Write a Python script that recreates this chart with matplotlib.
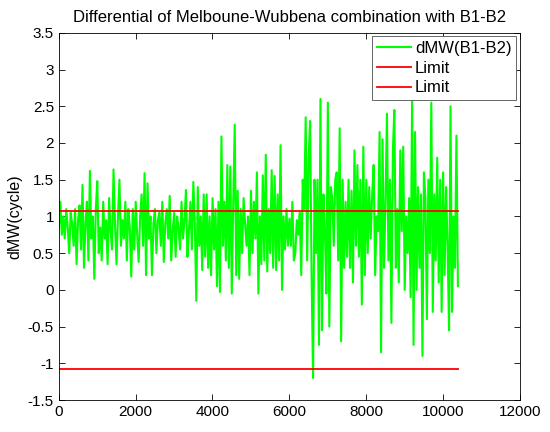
import numpy as np
import matplotlib
matplotlib.use("Agg")
import matplotlib.pyplot as plt
from matplotlib.ticker import FuncFormatter

# --- values (cycles) ---
# epochs 0 .. ~5960
dmw_quiet = [
    0.85, 1.2, 0.75, 1.0, 0.7, 1.1, 0.85, 0.5, 1.05, 0.9,
    0.6, 1.1, 0.35, 0.95, 1.15, 0.55, 1.43, 0.3, 0.9, 1.2,
    0.4, 1.62, 0.7, 1.0, 0.15, 1.1, 1.48, 0.5, 0.85, 0.4,
    1.2, 0.7, 0.95, 0.35, 1.25, 0.8, 0.55, 1.64, 0.9, 0.35,
    1.0, 1.5, 0.6, 0.95, 0.7, 1.2, 0.4, 1.1, 0.85, 0.18,
    1.1, 0.55, 1.2, 0.75, 0.38, 1.0, 1.3, 0.6, 1.59, 0.2,
    1.45, 0.7, 1.0, 0.2, 0.9, 1.1, 0.5, 0.95, 1.05, 0.6,
    1.2, 0.38, 0.9, 1.1, 0.7, 1.28, 0.4, 0.8, 1.05, 0.45,
    1.0, 0.85, 0.55, 1.2, 0.7, 0.95, 1.36, 0.45, 0.8, 1.2,
    0.55, 1.47, 0.9, -0.15, 1.4, 0.6, 1.0, 0.27, 1.3, 0.45,
    1.3, 0.3, 1.0, 0.2, 1.25, 0.55, 1.1, 0.05, 1.2, -0.03,
    2.09, 0.6, 1.2, 0.4, 1.7, 0.3, 1.68, -0.05, 1.2, 2.25,
    0.2, 1.35, 0.15, 1.1, 0.5, 1.25, 0.9, 0.6, 1.0, 0.2,
    1.35, 0.5, 1.2, 0.7, 1.6, -0.05, 1.0, 0.35, 1.56, 0.4,
    1.84, 0.25, 1.1, 0.5, 1.63, 0.3, 1.55, 0.27, 1.3, 0.4,
]
# epochs ~6000 .. 10390
dmw_active = [
    1.97, 0.0, 1.0, 0.55, 1.1, 0.6, 0.97, 0.6, 1.2, 0.4,
    0.5, 0.95, 0.75, 1.05, 0.2, 1.5, 1.1, 2.35, 0.4, 1.8,
    2.3, 0.2, -1.2, 1.5, 0.5, 1.5, -0.75, 2.6, -0.55, 1.3,
    0.8, -0.05, 2.55, -0.5, 1.4, 1.25, 0.6, 1.5,
    1.6, 0.4, 2.2, -0.7, 1.5, 0.3, 1.2, 0.45, 1.5, 0.3,
    1.35, 0.1, 1.9, 0.6, 1.7, 0.45, 1.5, -0.2, 1.95, 0.2,
    1.5, 0.5, 1.4, 0.7, 1.3, 1.7, 0.2, 1.0, 0.8, 2.15,
    -0.85, 2.05, 0.3, 1.2, 2.4, 0.4, 1.5, -0.45, 1.9, 2.45,
    0.3, 1.1, 0.1, 1.9,
    0.8, 1.95, 0.0, 1.0, 0.5, 1.25, -0.1, 2.6, -0.75, 2.15,
    0.0, 1.4, 0.3, 1.3, -0.9, 1.6, 1.25, -0.4, 1.5, 0.5,
    2.55, -0.3, 1.3, 0.4, 1.8, 0.1, 1.5, -0.3, 1.6, 0.2,
    1.4, 0.6, -0.55, 2.5, -0.3, 1.0, 0.3, 2.1, 0.05,
]
dmw = dmw_quiet + dmw_active
last_epoch = 10390
limit = 1.0752

epochs = np.linspace(0, last_epoch, len(dmw))

plt.rcParams['font.family'] = ['Liberation Sans', 'DejaVu Sans']

fig = plt.figure(figsize=(5.5, 4.32), dpi=100)
ax = fig.add_axes([0.107, 0.074, 0.838, 0.850])

ax.plot(epochs, dmw, color=(0, 1, 0), lw=1.5, label='dMW(B1-B2)')
ax.plot([0, last_epoch], [limit, limit], color=(1, 0, 0), lw=1.3, label='Limit')
ax.plot([0, last_epoch], [-limit, -limit], color=(1, 0, 0), lw=1.3, label='Limit')

ax.set_xlim(0, 12000)
ax.set_ylim(-1.5, 3.5)
ax.set_xticks(np.arange(0, 12001, 2000))
ax.set_yticks(np.arange(-1.5, 3.51, 0.5))
ax.yaxis.set_major_formatter(FuncFormatter(lambda v, p: f"{v:g}"))
ax.tick_params(direction='in', top=True, right=True, labelsize=11, length=4, width=0.6)
for s in ax.spines.values():
    s.set_linewidth(0.6)

ax.set_ylabel('dMW(cycle)', fontsize=11.5)
ax.set_title('Differential of Melboune-Wubbena combination with B1-B2', fontsize=12, pad=8)

leg = ax.legend(loc='upper right', fontsize=12, fancybox=False, framealpha=1,
                edgecolor='0.4', borderaxespad=0.2, handlelength=2.0,
                handletextpad=0.25, labelspacing=0.28, borderpad=0.3)
leg.get_frame().set_linewidth(0.7)

fig.savefig('out.png', dpi=100)
